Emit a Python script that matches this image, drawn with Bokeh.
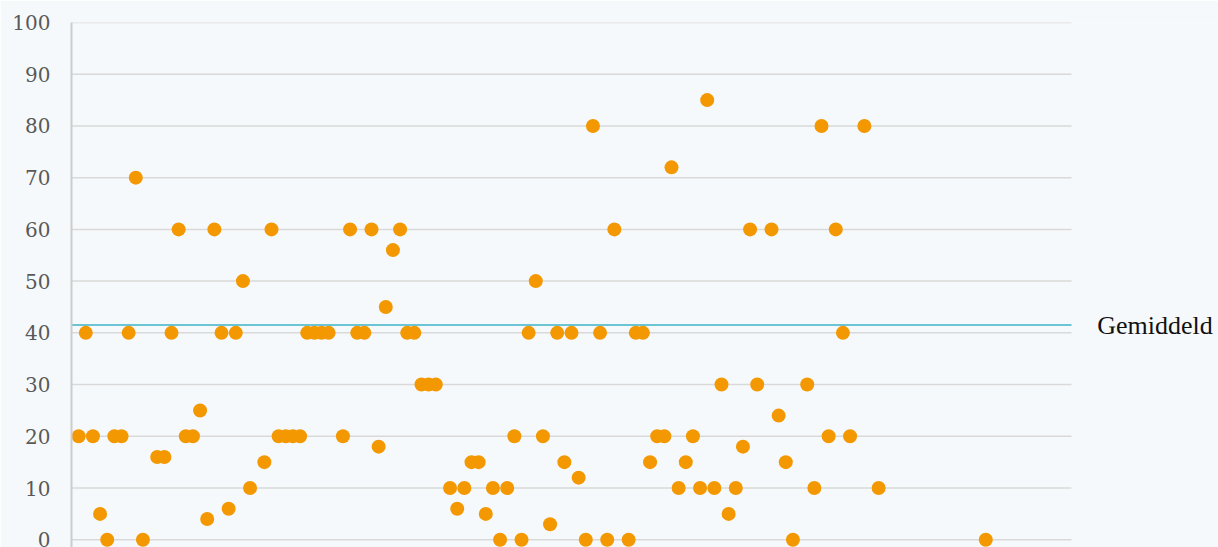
from bokeh.plotting import figure
from bokeh.models import FixedTicker, Range1d
from bokeh.core.properties import value
from bokeh.embed import file_html
from bokeh.resources import INLINE

# values per respondent (x = 1..128); None = no answer
values = [20, 40, 20, 5, 0, 20, 20, 40, 70, 0,
          None, 16, 16, 40, 60, 20, 20, 25, 4, 60,
          40, 6, 40, 50, 10, None, 15, 60, 20, 20,
          20, 20, 40, 40, 40, 40, None, 20, 60, 40,
          40, 60, 18, 45, 56, 60, 40, 40, 30, 30,
          30, None, 10, 6, 10, 15, 15, 5, 10, 0,
          10, 20, 0, 40, 50, 20, 3, 40, 15, 40,
          12, 0, 80, 40, 0, 60, None, 0, 40, 40,
          15, 20, 20, 72, 10, 15, 20, 10, 85, 10,
          30, 5, 10, 18, 60, 30, None, 60, 24, 15,
          0, None, 30, 10, 80, 20, 60, 40, 20, None,
          80, None, 10, None, None, None, None, None, None, None,
          None, None, None, None, None, None, None, 0]
gemiddeld = 41.5
y_ticks = [0, 10, 20, 30, 40, 50, 60, 70, 80, 90, 100]
x_min, x_max = 0, 140
mean_label = "Gemiddeld"

xs = [i + 1 for i, v in enumerate(values) if v is not None]
ys = [v for v in values if v is not None]

# frame spans to the right edge so the label can sit beside the plot area
px_per_x = 1000 / (x_max - x_min)
frame_w = 1218 - 71
x_end = x_min + frame_w / px_per_x

p = figure(width=1218, height=547,
           x_range=Range1d(x_min, x_end), y_range=Range1d(-1.5, 100),
           output_backend="svg", toolbar_location=None,
           x_axis_location=None,
           min_border_left=71, min_border_right=0,
           min_border_top=22, min_border_bottom=0)

bg = "#f6f9fb"
p.background_fill_color = bg
p.border_fill_color = bg
p.outline_line_color = None

p.xgrid.visible = False
p.ygrid.visible = False

ax = p.yaxis[0]
ax.ticker = FixedTicker(ticks=y_ticks)
ax.axis_line_color = "#cccccc"
ax.axis_line_width = 2
ax.major_tick_line_color = None
ax.minor_tick_line_color = None
ax.major_tick_out = 0
ax.major_tick_in = 0
ax.major_label_standoff = 21
ax.major_label_text_font = "DejaVu Serif"
ax.major_label_text_font_size = "20px"
ax.major_label_text_color = "#595959"

# horizontal gridlines limited to the x-axis extent
p.segment(x0=[x_min] * len(y_ticks), x1=[x_max] * len(y_ticks),
          y0=y_ticks, y1=y_ticks, line_color="#d9d9d9", line_width=1.5)

p.scatter(xs, ys, size=14, fill_color="#f39800", line_color=None)

p.segment(x0=[x_min], x1=[x_max], y0=[gemiddeld], y1=[gemiddeld],
          line_color="#3cb3c7", line_width=1.5)
p.text(x=[x_max + 3.6], y=[gemiddeld], text=[mean_label],
       text_font=value("Liberation Serif"), text_font_size="26px",
       text_color="#111111", text_baseline="middle", text_align="left")

open("out.html", "w").write(file_html(p, INLINE))
